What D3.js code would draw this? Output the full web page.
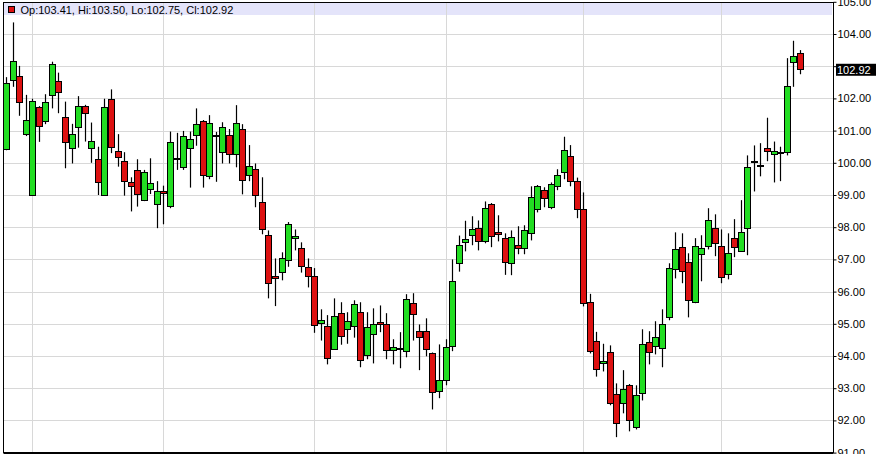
<!DOCTYPE html>
<html><head><meta charset="utf-8">
<script src="https://cdn.jsdelivr.net/npm/d3@7/dist/d3.min.js"></script>
<style>
html,body{margin:0;padding:0;background:#fff;}
svg{display:block;}
text{font-family:"Liberation Sans",Arial,sans-serif;}
</style></head>
<body><svg id="c" width="876" height="454"></svg>
<script>
const opens = [100.42,102.56,102.69,100.89,99.00,101.72,101.29,102.10,102.54,101.41,100.45,101.10,101.75,100.45,100.11,99.00,101.97,100.36,100.05,99.39,99.77,98.84,99.18,98.71,99.11,98.65,100.16,99.86,100.45,100.85,101.29,99.58,100.87,100.33,100.85,100.26,101.04,99.61,99.80,98.77,97.75,96.48,96.60,96.97,97.66,97.34,96.76,96.48,95.02,94.92,94.21,95.33,94.83,94.92,95.36,94.02,94.67,95.05,94.98,94.18,94.26,94.15,95.64,94.77,94.77,94.08,92.90,93.25,94.30,96.88,97.53,97.75,97.97,97.56,98.71,97.84,97.66,96.88,97.44,97.34,97.81,98.56,99.15,98.62,99.27,99.71,100.20,99.43,98.56,95.67,94.46,93.77,94.11,92.81,92.53,93.09,91.79,92.84,94.43,94.30,94.24,95.20,96.69,97.38,96.91,95.67,97.16,97.41,97.97,97.41,96.54,97.66,97.25,97.97,100.05,99.94,100.45,100.26,100.33,100.33,103.13,103.41];
const highs = [102.66,104.36,103.01,102.11,101.99,101.76,102.13,103.14,102.80,101.90,101.21,102.07,101.80,101.25,100.50,101.99,102.28,100.89,100.33,99.55,100.11,99.78,100.14,99.43,99.29,100.97,100.93,100.99,100.97,101.69,101.33,101.48,100.96,101.26,101.05,101.79,101.20,100.55,99.98,99.55,97.90,97.03,97.22,98.16,97.93,97.53,97.03,96.73,95.45,95.27,95.79,95.67,95.36,95.73,95.67,95.36,95.48,95.57,95.33,94.52,94.74,95.92,95.95,94.98,95.17,94.11,94.36,94.52,97.00,97.74,98.20,98.34,98.21,98.80,98.75,98.37,97.81,97.90,98.03,98.06,99.27,99.31,99.24,99.39,99.80,100.81,100.55,99.54,99.08,95.93,94.75,94.38,94.33,93.15,93.56,93.13,93.09,94.83,94.77,95.08,95.45,96.88,97.84,97.81,97.19,97.66,97.75,98.59,98.40,97.93,97.81,98.25,98.84,100.23,100.54,100.61,101.40,100.66,100.50,103.25,103.79,103.50];
const lows = [100.39,102.36,101.46,100.83,98.98,100.65,101.20,101.69,101.54,99.83,99.98,100.47,100.66,100.00,99.00,98.98,100.30,99.88,98.98,98.49,98.64,98.81,99.03,97.97,98.09,98.59,99.78,99.78,99.23,100.53,99.23,99.49,99.41,99.98,99.98,99.86,99.02,99.43,98.62,97.78,95.79,95.55,96.35,96.77,97.28,96.59,96.13,94.72,94.48,93.74,94.19,94.35,94.38,94.57,93.65,93.90,93.77,94.74,93.90,93.74,93.62,93.96,94.48,93.56,93.99,92.34,92.69,93.09,94.15,96.62,97.25,97.44,97.28,97.50,97.38,97.56,96.52,96.51,97.16,97.16,97.59,98.46,98.62,98.56,99.15,99.49,99.27,98.28,95.54,94.08,93.36,93.52,92.47,91.48,92.22,91.66,91.72,92.62,93.74,94.05,93.65,95.11,96.41,96.26,95.20,95.64,96.32,97.31,97.10,96.26,96.38,97.07,97.23,97.13,99.11,99.58,100.05,99.39,99.43,100.23,102.36,102.75];
const closes = [102.48,103.15,101.88,101.32,101.91,101.13,101.88,103.06,102.19,100.64,100.89,101.75,101.56,100.67,99.39,101.72,100.48,100.17,99.43,99.27,99.02,99.71,99.36,99.11,99.05,100.64,100.16,100.82,100.73,101.20,99.61,101.23,100.87,101.10,100.26,101.23,99.46,99.89,98.99,97.93,96.26,96.41,97.03,98.09,97.72,96.79,96.48,94.95,95.11,93.93,95.23,94.61,95.08,95.61,93.87,94.89,94.98,94.98,94.18,94.27,94.26,95.76,95.30,94.58,94.21,92.87,93.25,94.27,96.32,97.44,97.62,97.93,97.56,98.59,97.72,97.78,96.91,97.69,97.34,97.90,98.93,99.27,98.90,99.33,99.61,100.39,99.43,98.56,95.64,94.15,93.59,93.85,92.53,91.91,92.97,92.00,92.78,94.36,94.11,94.58,94.98,96.72,97.31,96.63,95.73,97.41,97.34,98.21,97.50,96.44,97.19,97.38,97.84,99.86,100.05,99.94,100.36,100.36,100.33,102.39,103.31,102.92];
const monthStarts = [4,24,47,67,88,109];
const yTicks = [91,92,93,94,95,96,97,98,99,100,101,102,103,104,105];

const candles = opens.map((o,i)=>({i, o, h:highs[i], l:lows[i], c:closes[i]}));
const last = candles[candles.length-1];

const svg = d3.select("#c");
const L = 3.5, R = 833.5, T = 2.5, B = 452.5;
const x = d3.scaleLinear().domain([0, candles.length-1]).range([6, 799.8]);
const y = d3.scaleLinear().domain([91,105]).range([452.6, 1.8]);
const GREEN = "#22dd22", RED = "#dd1111";

// legend band
svg.append("rect").attr("x",4).attr("y",3).attr("width",828).attr("height",12).attr("fill","#e4e4fa");

// grid
const g = svg.append("g");
g.selectAll("line.h").data(yTicks.filter(t=>t>91 && t<105)).join("line")
  .attr("x1",L).attr("x2",R)
  .attr("y1",d=>Math.round(y(d))+0.5).attr("y2",d=>Math.round(y(d))+0.5)
  .attr("stroke","#d8d8d8").attr("stroke-width",1);
g.selectAll("line.v").data(monthStarts).join("line")
  .attr("x1",d=>Math.round(x(d))+0.5).attr("x2",d=>Math.round(x(d))+0.5)
  .attr("y1",T).attr("y2",B)
  .attr("stroke","#d8d8d8").attr("stroke-width",1);

// candles
const cg = svg.append("g");
const cx = d=>Math.round(x(d.i))+0.5;
cg.selectAll("line.w").data(candles).join("line")
  .attr("x1",cx).attr("x2",cx)
  .attr("y1",d=>y(d.h)).attr("y2",d=>y(d.l))
  .attr("stroke","#000").attr("stroke-width",1.2);
cg.selectAll("rect.b").data(candles).join("rect")
  .attr("x",d=>cx(d)-3).attr("width",6)
  .attr("y",d=>Math.round(y(Math.max(d.o,d.c)))+0.5)
  .attr("height",d=>Math.max(1, Math.round(y(Math.min(d.o,d.c))) - Math.round(y(Math.max(d.o,d.c)))))
  .attr("fill",d=>d.c>d.o?GREEN:(d.c<d.o?RED:"#000"))
  .attr("stroke","#000").attr("stroke-width",1);

// border
svg.append("rect").attr("x",L).attr("y",T).attr("width",R-L).attr("height",B-T)
  .attr("fill","none").attr("stroke","#000").attr("stroke-width",1);
svg.append("line").attr("x1",L).attr("x2",R).attr("y1",453).attr("y2",453)
  .attr("stroke","#000").attr("stroke-width",2);

// right axis
const ax = svg.append("g").attr("transform",`translate(${R},0)`)
  .call(d3.axisRight(y).tickValues(yTicks).tickFormat(d3.format(".2f")).tickSize(3).tickPadding(1));
ax.select(".domain").remove();
ax.selectAll("text").attr("font-size",11).attr("fill","#000")
  .style("font-family","'Liberation Sans',Arial,sans-serif")
  .style("display",d=>Math.abs(y(d)-y(last.c))<10?"none":null);
ax.selectAll("line").attr("stroke","#000");

// current price box
const py = y(last.c)+1.5;
svg.append("rect").attr("x",836).attr("y",py-6.5).attr("width",40).attr("height",12).attr("fill","#000");
svg.append("text").attr("x",837).attr("y",py+4).attr("font-size",11).attr("fill","#fff").text(last.c.toFixed(2));

// legend
svg.append("rect").attr("x",8.5).attr("y",6.5).attr("width",6).attr("height",6)
  .attr("fill",last.c>=last.o?GREEN:RED).attr("stroke","#000").attr("stroke-width",1);
svg.append("text").attr("x",20.5).attr("y",13.5).attr("font-size",11).attr("fill","#000")
  .text(`Op:${last.o.toFixed(2)}, Hi:${last.h.toFixed(2)}, Lo:${last.l.toFixed(2)}, Cl:${last.c.toFixed(2)}`);
</script></body></html>
